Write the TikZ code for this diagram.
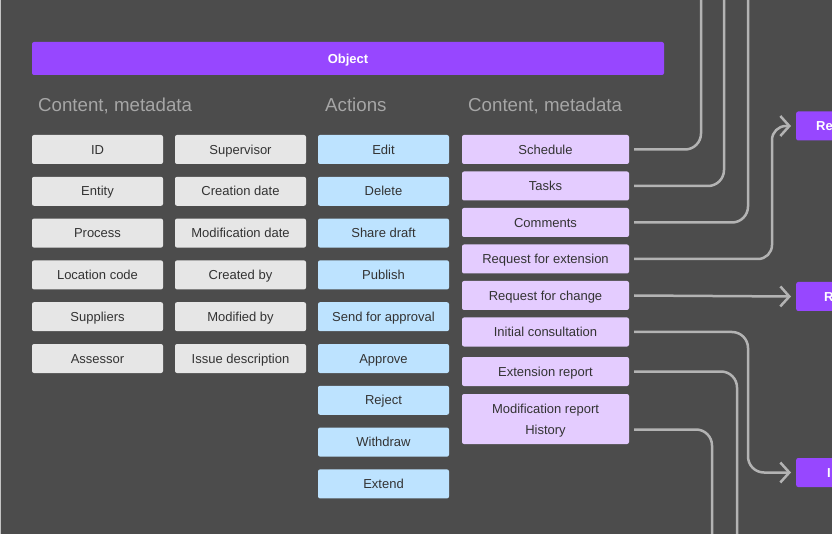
\documentclass[tikz,border=0pt]{standalone}
\usepackage{fontspec}
\setmainfont{Liberation Sans}
\usepackage{tikz}
\usetikzlibrary{arrows.meta,positioning}
\definecolor{Canvas}{HTML}{4C4C4C}
\definecolor{Edge}{HTML}{C4C4C4}
\definecolor{Ink}{HTML}{333333}
\definecolor{Heading}{HTML}{A6A6A6}
\definecolor{Wire}{HTML}{B3B3B3}
\definecolor{Violet}{HTML}{9747FF}
\definecolor{GreySoft}{HTML}{E6E6E6}
\definecolor{BlueSoft}{HTML}{BDE3FF}
\definecolor{VioletSoft}{HTML}{E4CCFF}
\tikzset{
  cell/.style={rounded corners=2pt,minimum height=29pt,minimum width=131pt,inner sep=0pt,outer sep=0pt,align=center,text=Ink,text height=9.3pt,text depth=0pt,font=\fontsize{13}{21}\selectfont},
  cellgrey/.style={cell,fill=GreySoft},
  cellblue/.style={cell,fill=BlueSoft},
  cellviolet/.style={cell,fill=VioletSoft,minimum width=167pt},
  heading/.style={anchor=base west,inner sep=0pt,text=Heading,font=\fontsize{18.7}{22}\selectfont},
  banner/.style={rounded corners=2pt,fill=Violet,text=white,font=\fontsize{13}{16}\selectfont\bfseries,text height=9.3pt,text depth=0pt,minimum height=33pt,minimum width=632pt,inner sep=0pt},
  target/.style={rounded corners=2pt,fill=Violet,text=white,font=\fontsize{13}{16}\selectfont\bfseries,anchor=west,align=left,minimum height=29pt,text width=40pt,text height=9.3pt,text depth=0pt,inner ysep=0pt},
  wire/.style={draw=Wire,line width=2.5pt,rounded corners=16pt},
  wireArrow/.style={wire,-{Straight Barb[length=9pt,width=20pt]}}
}
\begin{document}
\begin{tikzpicture}[x=1pt,y=-1pt,node distance=12.8pt]
\fill[Canvas] (0,0) rectangle (832,534);
\useasboundingbox (0,0) rectangle (832,534);
\draw[Edge,line width=1pt] (0.5,0) -- (0.5,534);
\node[banner] (object) at (348,58.5) {Object};
\node[heading] (hMeta) at (38,112) {Content, metadata};
\node[heading] (hActions) at (325,112) {Actions};
\node[heading] (hContent) at (468,112) {Content, metadata};
% first grey column
\node[cellgrey] (id) at (97.5,149.5) {ID};
\node[cellgrey,below=of id] (entity) {Entity};
\node[cellgrey,below=of entity] (process) {Process};
\node[cellgrey,below=of process] (loc) {Location code};
\node[cellgrey,below=of loc] (suppliers) {Suppliers};
\node[cellgrey,below=of suppliers] (assessor) {Assessor};
% second grey column
\node[cellgrey] (supervisor) at (240.5,149.5) {Supervisor};
\node[cellgrey,below=of supervisor] (created) {Creation date};
\node[cellgrey,below=of created] (modified) {Modification date};
\node[cellgrey,below=of modified] (createdby) {Created by};
\node[cellgrey,below=of createdby] (modifiedby) {Modified by};
\node[cellgrey,below=of modifiedby] (issue) {Issue description};
% actions
\node[cellblue] (edit) at (383.5,149.5) {Edit};
\node[cellblue,below=of edit] (delete) {Delete};
\node[cellblue,below=of delete] (share) {Share draft};
\node[cellblue,below=of share] (publish) {Publish};
\node[cellblue,below=of publish] (send) {Send for approval};
\node[cellblue,below=of send] (approve) {Approve};
\node[cellblue,below=of approve] (reject) {Reject};
\node[cellblue,below=of reject] (withdraw) {Withdraw};
\node[cellblue,below=of withdraw] (extend) {Extend};
% content
\node[cellviolet] (sched) at (545.5,149.5) {Schedule};
\node[cellviolet,below=7.5pt of sched] (tasks) {Tasks};
\node[cellviolet,below=7.5pt of tasks] (comments) {Comments};
\node[cellviolet,below=7.5pt of comments] (reqext) {Request for extension};
\node[cellviolet,below=7.5pt of reqext] (reqchange) {Request for change};
\node[cellviolet,below=7.5pt of reqchange] (consult) {Initial consultation};
\node[cellviolet,below=10.5pt of consult] (extrep) {Extension report};
\node[cellviolet,below=8pt of extrep,minimum height=50pt,text height=30.3pt] (modrep) {Modification report\\History};
% targets, cut by the page edge
\node[target,inner xsep=20pt] (tgtExt) at (796,126) {Re};
\node[target,inner xsep=28pt] (tgtChange) at (796,296.5) {R};
\node[target,inner xsep=31pt] (tgtConsult) at (796,472.5) {I};
\coordinate (topSched) at (701,0);
\coordinate (topTasks) at (724,0);
\coordinate (topComm) at (748,0);
\coordinate (bendExt) at (772,0);
\coordinate (bendConsult) at (748,0);
\coordinate (botExt) at (737,534);
\coordinate (botMod) at (712,534);
\draw[wire] ([xshift=5pt]sched.east) -| (topSched);
\draw[wire] ([xshift=5pt]tasks.east) -| (topTasks);
\draw[wire] ([xshift=5pt]comments.east) -| (topComm);
\draw[wireArrow,rounded corners=14pt] ([xshift=5pt]reqext.east) -| (bendExt |- tgtExt.west) -- ([xshift=-5pt]tgtExt.west);
\draw[wireArrow] ([xshift=5pt]reqchange.east) -- ([xshift=-5pt]tgtChange.west);
\draw[wireArrow] ([xshift=5pt]consult.east) -| (bendConsult |- tgtConsult.west) -- ([xshift=-5pt]tgtConsult.west);
\draw[wire] ([xshift=5pt]extrep.east) -| (botExt);
\draw[wire] ([xshift=5pt,yshift=-10.5pt]modrep.east) -| (botMod);
\end{tikzpicture}
\end{document}
